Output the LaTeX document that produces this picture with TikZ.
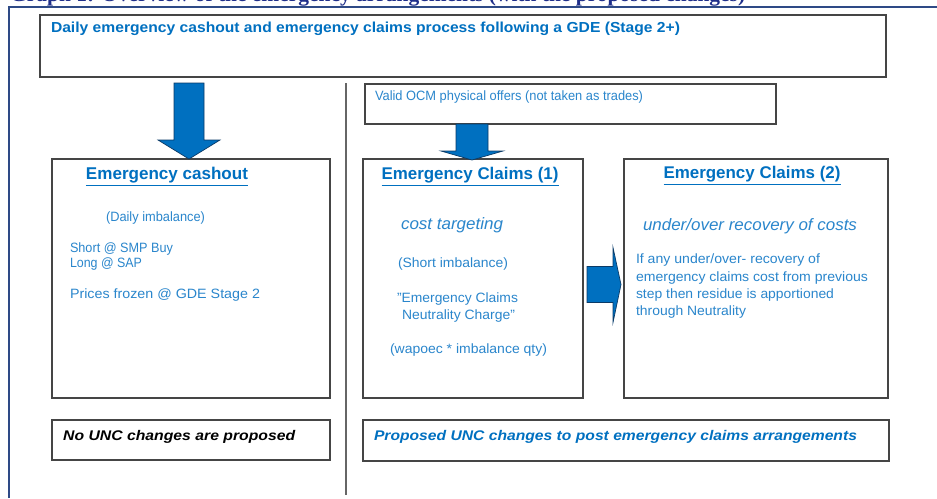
\documentclass[tikz,border=0pt]{standalone}
\usepackage{fontspec}
\setmainfont{Liberation Sans}
\newfontfamily\titleserif{Liberation Serif}
\usetikzlibrary{calc}
\definecolor{headblue}{HTML}{0070C0}
\definecolor{bodyblue}{HTML}{2A86CC}
\definecolor{navy}{HTML}{1F2F8A}
\definecolor{framecol}{HTML}{2E4A86}
\definecolor{boxline}{HTML}{454545}
\definecolor{arrowedge}{HTML}{0B3A66}
\newcommand{\fitw}[2]{\resizebox{#1pt}{!}{#2}}
\newcommand{\fitx}[2]{\resizebox{#1pt}{\height}{#2}}
\tikzset{
  box/.style={draw=boxline, line width=1.1pt, fill=white, rectangle, inner sep=0pt, outer sep=0pt, anchor=north west},
  txt/.style={inner sep=0pt, outer sep=0pt, text=bodyblue, font=\fontsize{13.5}{16}\selectfont},
  head/.style={inner sep=0pt, outer sep=0pt, text=headblue, font=\bfseries},
  barrow/.style={fill=headblue, draw=arrowedge, line width=0.7pt, line join=miter},
}
\begin{document}
\begin{tikzpicture}[x=1pt,y=-1pt]
\useasboundingbox (0,0) rectangle (937,498);
\fill[white] (0,0) rectangle (937,498);
% clipped title
\begin{scope}
\clip (0,0) rectangle (937,6.5);
\node[anchor=base west, inner sep=0pt, text=navy] (title) at (10,1.5) {\fitw{735}{\titleserif\bfseries Graph 1: Overview of the emergency arrangements (with the proposed changes)}};
\end{scope}
% frame
\draw[framecol, line width=1.4pt] (9,498) -- (9,7) -- (937,7);
% separator
\draw[gray!80!black, line width=2pt] (346,83) -- (346,495);
% boxes
\node[box, minimum width=846pt, minimum height=62pt] (top) at (40,15) {};
\node[box, minimum width=411pt, minimum height=40pt] (ocm) at (365,84) {};
\node[box, minimum width=278pt, minimum height=239pt] (cash) at (52,159) {};
\node[box, minimum width=220pt, minimum height=239pt] (ec1) at (363,159) {};
\node[box, minimum width=264pt, minimum height=239pt] (ec2) at (624,159) {};
\node[box, minimum width=278pt, minimum height=40pt] (nounc) at (52,420) {};
\node[box, minimum width=526pt, minimum height=41pt] (prop) at (363,420) {};
% block arrows
\coordinate (t1) at ($(cash.north)+(-2,0)$);
\draw[barrow] ($(t1)+(-15,-76)$) -- ($(t1)+(15,-76)$) -- ($(t1)+(15,-19)$) -- ($(t1)+(31,-19)$) -- (t1) -- ($(t1)+(-31,-19)$) -- ($(t1)+(-15,-19)$) -- cycle;
\coordinate (t2) at ($(ec1.north)+(-1,1)$);
\draw[barrow] ($(t2)+(-16,-36)$) -- ($(t2)+(16,-36)$) -- ($(t2)+(16,-9)$) -- ($(t2)+(31,-9)$) -- (t2) -- ($(t2)+(-31,-9)$) -- ($(t2)+(-16,-9)$) -- cycle;
\coordinate (t3) at ($(ec2.west)+(-3,6)$);
\draw[barrow] ($(t3)+(-34,-18)$) -- ($(t3)+(-8,-18)$) -- ($(t3)+(-8,-37)$) -- (t3) -- ($(t3)+(-8,38)$) -- ($(t3)+(-8,18)$) -- ($(t3)+(-34,18)$) -- cycle;
% texts
\node[head, anchor=west, font=\bfseries\fontsize{14.5}{17}\selectfont] (ttop) at (51,29) {\fitx{629}{Daily emergency cashout and emergency claims process following a GDE (Stage 2+)}};
\node[txt, anchor=west] (tocm) at (375,97) {\fitx{268}{Valid OCM physical offers (not taken as trades)}};
% cashout
\node[head] (hcash) at (167,177) {\fitw{162}{\underline{Emergency cashout}}};
\node[txt, anchor=west] (c1) at (106,218) {\fitx{99}{(Daily imbalance)}};
\node[txt, anchor=west] (c2) at (70,249) {\fitx{103}{Short @ SMP Buy}};
\node[txt, anchor=west] (c3) at (70,264) {\fitx{72}{Long @ SAP}};
\node[txt, anchor=west] (c4) at (70,295) {\fitx{190}{Prices frozen @ GDE Stage 2}};
% claims 1
\node[head] (hec1) at (470,177) {\fitw{177}{\underline{Emergency Claims (1)}}};
\node[txt, anchor=west, font=\itshape\fontsize{16.5}{19}\selectfont] (e1) at (401,225) {\fitx{102}{cost targeting}};
\node[txt, anchor=west] (e2) at (398,264) {\fitx{110}{(Short imbalance)}};
\node[txt, anchor=west] (e3) at (397,299) {\fitx{121}{"Emergency Claims}};
\node[txt, anchor=west] (e4) at (402,316) {\fitx{113}{Neutrality Charge"}};
\node[txt, anchor=west] (e5) at (390,350) {\fitx{157}{(wapoec * imbalance qty)}};
% claims 2
\node[head] (hec2) at (752,176) {\fitw{177}{\underline{Emergency Claims (2)}}};
\node[txt, anchor=west, font=\itshape\fontsize{16.5}{19}\selectfont] (f1) at (643,226) {\fitx{214}{under/over recovery of costs}};
\node[txt, anchor=west] (f2) at (636,260) {\fitx{184}{If any under/over- recovery of}};
\node[txt, anchor=west] (f3) at (636,278) {\fitx{232}{emergency claims cost from previous}};
\node[txt, anchor=west] (f4) at (636,295) {\fitx{198}{step then residue is apportioned}};
\node[txt, anchor=west] (f5) at (636,312) {\fitx{110}{through Neutrality}};
% bottom
\node[inner sep=0pt, anchor=west, text=black, font=\bfseries\itshape\fontsize{14}{17}\selectfont] (tn) at (63,437) {\fitx{232}{No UNC changes are proposed}};
\node[head, anchor=west, font=\bfseries\itshape\fontsize{14}{17}\selectfont] (tp) at (374,437) {\fitx{483}{Proposed UNC changes to post emergency claims arrangements}};
\end{tikzpicture}
\end{document}
